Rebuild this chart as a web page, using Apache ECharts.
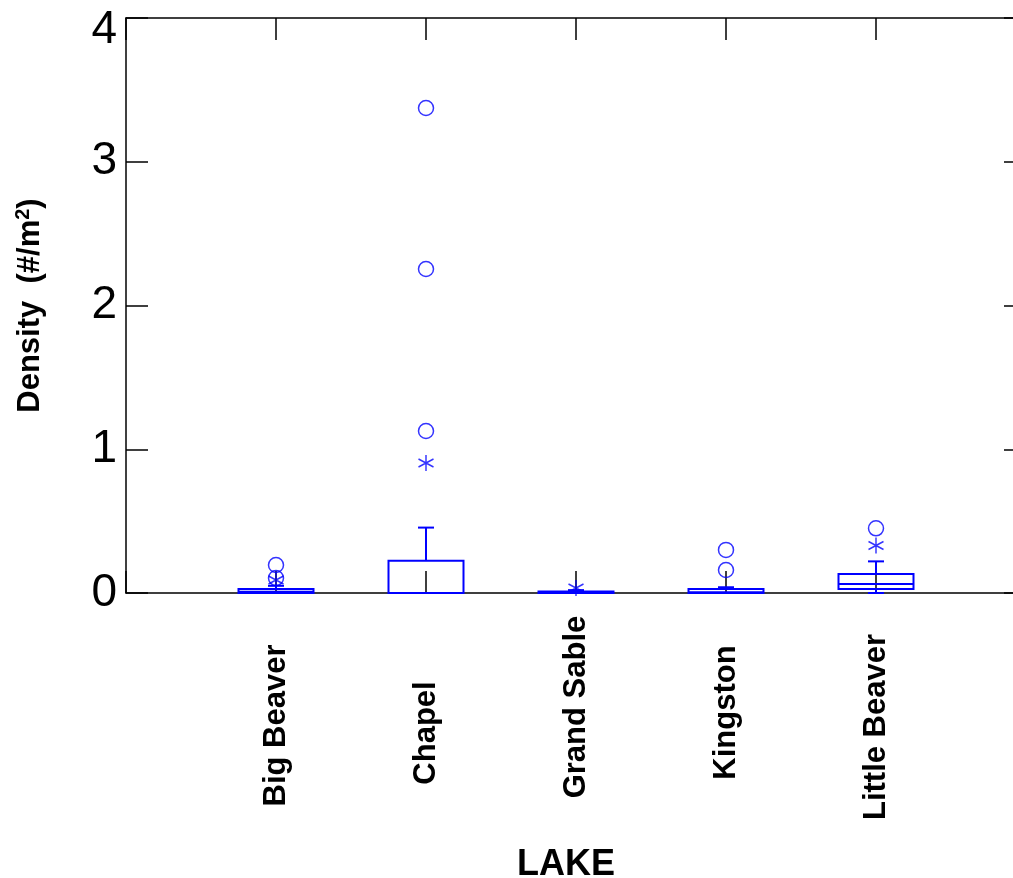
<!DOCTYPE html>
<html>
<head>
<meta charset="utf-8">
<script src="https://cdn.jsdelivr.net/npm/echarts@6/dist/echarts.min.js"></script>
<style>html,body{margin:0;padding:0;background:#fff;}#c{width:1013px;height:878px;}</style>
</head>
<body>
<div id="c"></div>
<script>
var categories = ['Big Beaver', 'Chapel', 'Grand Sable', 'Kingston', 'Little Beaver'];
var whiskerLow = [0, 0, 0, 0, 0];
var boxQ1 = [0, 0, 0, 0, 0.028];
var boxMedian = [0.008, 0, 0.003, 0.005, 0.063];
var boxQ3 = [0.028, 0.224, 0.01, 0.028, 0.132];
var whiskerHigh = [0.05, 0.455, 0.02, 0.04, 0.22];
// outside values (asterisks): [category index, value]
var outsideValues = [[0, 0.09], [1, 0.904], [2, 0.035], [4, 0.33]];
// far outside values (circles): [category index, value]
var farOutsideValues = [[0, 0.104], [0, 0.195], [1, 1.127], [1, 2.254], [1, 3.374], [3, 0.16], [3, 0.30], [4, 0.45]];
var yTicks = [0, 1, 2, 3, 4];

var BLUE = '#0000ff';
var FONT = 'Liberation Sans, Arial, sans-serif';

var boxData = categories.map(function (c, i) {
  return [i + 1, whiskerLow[i], boxQ1[i], boxMedian[i], boxQ3[i], whiskerHigh[i]];
});

function renderBox(params, api) {
  var x = api.value(0);
  var pLow = api.coord([x, api.value(1)]);
  var pQ1 = api.coord([x, api.value(2)]);
  var pMed = api.coord([x, api.value(3)]);
  var pQ3 = api.coord([x, api.value(4)]);
  var pHigh = api.coord([x, api.value(5)]);
  var bw = api.size([0.5, 0])[0];
  var cw = api.size([0.107, 0])[0];
  var cx = pQ1[0];
  var style = { stroke: BLUE, lineWidth: 2, fill: null };
  return {
    type: 'group',
    children: [
      { type: 'rect', shape: { x: cx - bw / 2, y: pQ3[1], width: bw, height: pQ1[1] - pQ3[1] }, style: style },
      { type: 'line', shape: { x1: cx - bw / 2, y1: pMed[1], x2: cx + bw / 2, y2: pMed[1] }, style: style },
      { type: 'line', shape: { x1: cx, y1: pQ3[1], x2: cx, y2: pHigh[1] }, style: style },
      { type: 'line', shape: { x1: cx - cw / 2, y1: pHigh[1], x2: cx + cw / 2, y2: pHigh[1] }, style: style },
      { type: 'line', shape: { x1: cx, y1: pQ1[1], x2: cx, y2: pLow[1] }, style: style },
      { type: 'line', shape: { x1: cx - cw / 2, y1: pLow[1], x2: cx + cw / 2, y2: pLow[1] }, style: style }
    ]
  };
}

// per-label rich styles (small offsets along the rotated text)
var labelFont = { fontFamily: FONT, fontWeight: 'bold', fontSize: 31, color: '#000' };
var labelPads = [[0, 11, 0, 0], [0, 26, 0, 0], [0, 0, 0, 26], [0, 0, 0, 15], [0, 14, 0, 0]];
var labelRich = {};
labelPads.forEach(function (p, i) {
  labelRich['c' + i] = Object.assign({ padding: p }, labelFont);
});

var chart = echarts.init(document.getElementById('c'), null, { renderer: 'canvas' });
var tickLineStyle = { color: '#000', width: 1.5 };
chart.setOption({
  backgroundColor: '#fff',
  animation: false,
  grid: { left: 126, right: -13, top: 18, bottom: 285, containLabel: false, outerBoundsMode: 'none' },
  xAxis: [{
    type: 'value', min: 0, max: 6, interval: 1, position: 'bottom',
    axisLine: { show: true, onZero: false, lineStyle: tickLineStyle },
    axisTick: { show: true, inside: true, length: 22, lineStyle: tickLineStyle },
    splitLine: { show: false },
    axisLabel: {
      rotate: 90, align: 'center', verticalAlign: 'middle', margin: 127,
      fontFamily: FONT, fontWeight: 'bold', fontSize: 31, color: '#000',
      rich: labelRich,
      formatter: function (v) {
        var name = categories[v - 1];
        return name ? '{c' + (v - 1) + '|' + name + '}' : '';
      }
    },
    name: 'LAKE', nameLocation: 'middle', nameGap: 254,
    nameTextStyle: { fontFamily: FONT, fontWeight: 'bold', fontSize: 36, color: '#000', padding: [0, 20, 0, 0] }
  }, {
    type: 'value', min: 0, max: 6, interval: 1, position: 'top',
    axisLine: { show: true, onZero: false, lineStyle: tickLineStyle },
    axisTick: { show: true, inside: true, length: 22, lineStyle: tickLineStyle },
    axisLabel: { show: false }, splitLine: { show: false }
  }],
  yAxis: [{
    type: 'value', min: yTicks[0], max: yTicks[yTicks.length - 1], interval: 1, position: 'left',
    axisLine: { show: true, onZero: false, lineStyle: tickLineStyle },
    axisTick: { show: true, inside: true, length: 22, lineStyle: tickLineStyle },
    splitLine: { show: false },
    axisLabel: {
      margin: 9, fontFamily: FONT, fontSize: 46, color: '#000',
      rich: { top: { fontFamily: FONT, fontSize: 46, color: '#000', padding: [24, 0, 0, 0] } },
      formatter: function (v) { return v === yTicks[yTicks.length - 1] ? '{top|' + v + '}' : String(v); }
    },
    name: '{a|Density  (#/m}{s|2}{a|)}', nameLocation: 'middle', nameGap: 78,
    nameTextStyle: {
      rich: {
        a: { fontFamily: FONT, fontWeight: 'bold', fontSize: 31, color: '#000' },
        s: { fontFamily: FONT, fontWeight: 'bold', fontSize: 20, color: '#000', padding: [0, 0, 15, 0] }
      }
    }
  }, {
    type: 'value', min: yTicks[0], max: yTicks[yTicks.length - 1], interval: 1, position: 'right',
    axisLine: { show: true, onZero: false, lineStyle: tickLineStyle },
    axisTick: { show: true, inside: true, length: 22, lineStyle: tickLineStyle },
    axisLabel: { show: false }, splitLine: { show: false }
  }],
  series: [{
    type: 'custom', xAxisIndex: 0, yAxisIndex: 0,
    renderItem: renderBox, data: boxData, z: 3, silent: true
  }, {
    type: 'scatter', xAxisIndex: 0, yAxisIndex: 0,
    data: farOutsideValues.map(function (d) { return [d[0] + 1, d[1]]; }),
    symbol: 'circle', symbolSize: 15,
    itemStyle: { color: 'rgba(0,0,0,0)', borderColor: BLUE, borderWidth: 1.5 }, z: 4
  }, {
    type: 'scatter', xAxisIndex: 0, yAxisIndex: 0,
    data: outsideValues.map(function (d) { return [d[0] + 1, d[1]]; }),
    symbol: 'path://M0,-1L0,1M-0.866,-0.5L0.866,0.5M-0.866,0.5L0.866,-0.5',
    symbolSize: [15, 16],
    itemStyle: { color: 'none', borderColor: BLUE, borderWidth: 1.5 }, z: 4
  }]
});
</script>
</body>
</html>
